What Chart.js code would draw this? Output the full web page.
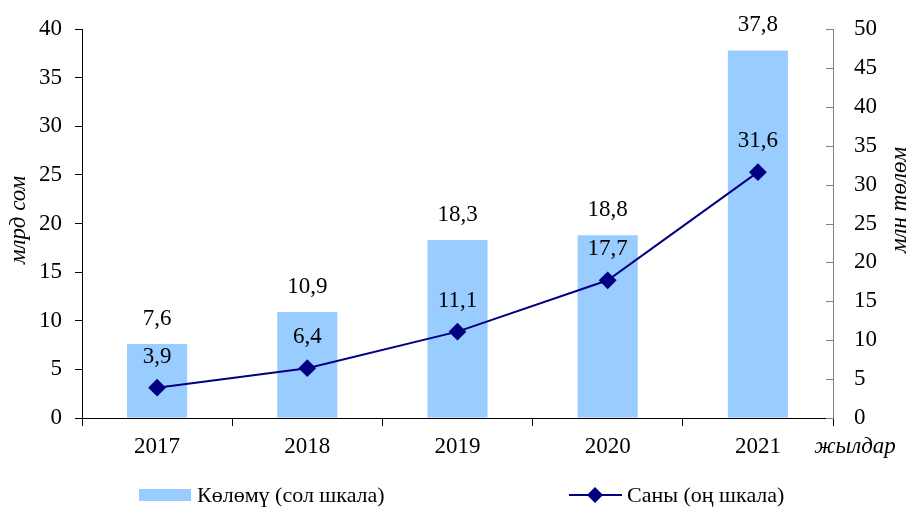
<!DOCTYPE html>
<html>
<head>
<meta charset="utf-8">
<script src="https://cdn.jsdelivr.net/npm/chart.js@4"></script>
<style>
  html, body { margin: 0; padding: 0; background: #fff; }
  #wrap { position: relative; width: 909px; height: 508px; }
  .legend { position: absolute; top: 481px; height: 28px; font: 22px "Liberation Serif", serif; color: #000; display: flex; align-items: center; white-space: nowrap; }
</style>
</head>
<body>
<div id="wrap">
  <canvas id="chart" width="909" height="508"></canvas>
  <div class="legend" style="left:139px"><span style="display:inline-block;width:52px;height:12px;background:#99ccff;margin-right:6px"></span>Көлөмү (сол шкала)</div>
  <div class="legend" style="left:569px"><canvas id="lg" width="53" height="20" style="margin-right:5px"></canvas>Саны (оң шкала)</div>
</div>
<script>
const years = ['2017', '2018', '2019', '2020', '2021'];
const volume = [7.6, 10.9, 18.3, 18.8, 37.8];   // млрд сом, left axis
const count = [3.9, 6.4, 11.1, 17.7, 31.6];     // млн төлөм, right axis
const leftTicks = [0, 5, 10, 15, 20, 25, 30, 35, 40];
const rightTicks = [0, 5, 10, 15, 20, 25, 30, 35, 40, 45, 50];

const BAR = '#99ccff';
const LINE = '#000080';
const FONT = '"Liberation Serif", "Times New Roman", serif';
const FS = 23;

// legend line sample with diamond
(function () {
  const c = document.getElementById('lg').getContext('2d');
  c.strokeStyle = LINE; c.lineWidth = 2;
  c.beginPath(); c.moveTo(0, 10); c.lineTo(53, 10); c.stroke();
  c.fillStyle = LINE;
  c.beginPath(); c.moveTo(26, 2); c.lineTo(34, 10); c.lineTo(26, 18); c.lineTo(18, 10); c.closePath(); c.fill();
})();

const fmt = v => v.toFixed(1).replace('.', ',');

const extras = {
  id: 'extras',
  afterDatasetsDraw(chart) {
    const ctx = chart.ctx;
    ctx.save();
    ctx.font = FS + 'px ' + FONT;
    ctx.fillStyle = '#000';
    ctx.textAlign = 'center';
    ctx.textBaseline = 'middle';
    chart.getDatasetMeta(0).data.forEach((el, i) => {
      ctx.fillText(fmt(volume[i]), el.x, el.y - 25);
    });
    chart.getDatasetMeta(1).data.forEach((el, i) => {
      ctx.fillText(fmt(count[i]), el.x, el.y - 31);
    });

    // inward ticks on right axis
    const r = chart.scales.y2;
    ctx.strokeStyle = '#808080';
    ctx.lineWidth = 1;
    rightTicks.forEach(t => {
      const y = Math.round(r.getPixelForValue(t)) + 0.5;
      ctx.beginPath(); ctx.moveTo(r.left - 7, y); ctx.lineTo(r.left, y); ctx.stroke();
    });

    // axis titles
    ctx.font = 'italic ' + FS + 'px ' + FONT;
    ctx.fillStyle = '#000';
    ctx.save();
    ctx.translate(19, 220);
    ctx.rotate(-Math.PI / 2);
    ctx.fillText('млрд сом', 0, 0);
    ctx.restore();
    ctx.save();
    ctx.translate(900, 200);
    ctx.rotate(-Math.PI / 2);
    ctx.fillText('млн төлөм', 0, 0);
    ctx.restore();
    ctx.fillText('жылдар', 855, 447);
    ctx.restore();
  }
};

new Chart(document.getElementById('chart'), {
  data: {
    labels: years,
    datasets: [
      {
        type: 'bar',
        label: 'Көлөмү (сол шкала)',
        data: volume,
        yAxisID: 'y',
        backgroundColor: BAR,
        categoryPercentage: 1,
        barPercentage: 0.4,
        order: 2
      },
      {
        type: 'line',
        label: 'Саны (оң шкала)',
        data: count,
        yAxisID: 'y2',
        borderColor: LINE,
        backgroundColor: LINE,
        borderWidth: 2,
        pointStyle: 'rectRot',
        pointRadius: 7.5,
        pointHoverRadius: 7.5,
        tension: 0,
        order: 1
      }
    ]
  },
  options: {
    responsive: false,
    animation: false,
    events: [],
    layout: { padding: { top: 29, left: 0, right: 0, bottom: 0 } },
    plugins: { legend: { display: false }, tooltip: { enabled: false } },
    scales: {
      x: {
        offset: true,
        grid: { offset: true, drawOnChartArea: false, tickLength: 8, color: '#000' },
        border: { color: '#000', width: 1 },
        ticks: { color: '#000', font: { family: FONT, size: FS }, padding: 7 },
        afterFit(s) { s.height = 90; }
      },
      y: {
        position: 'left',
        min: 0, max: 40,
        afterBuildTicks(s) { s.ticks = leftTicks.map(v => ({ value: v })); },
        grid: { drawOnChartArea: false, tickLength: 7, color: '#000' },
        border: { color: '#000', width: 1 },
        ticks: { color: '#000', font: { family: FONT, size: FS }, padding: 13 },
        afterFit(s) { s.width = 82; }
      },
      y2: {
        position: 'right',
        min: 0, max: 50,
        afterBuildTicks(s) { s.ticks = rightTicks.map(v => ({ value: v })); },
        // ticks drawn inward by the plugin; these only push the labels out
        grid: { drawOnChartArea: false, tickLength: 18, color: 'rgba(0,0,0,0)' },
        border: { color: '#808080', width: 1 },
        ticks: { color: '#000', font: { family: FONT, size: FS }, padding: 3 },
        afterFit(s) { s.width = 909 - 833; }
      }
    }
  },
  plugins: [extras]
});
</script>
</body>
</html>
